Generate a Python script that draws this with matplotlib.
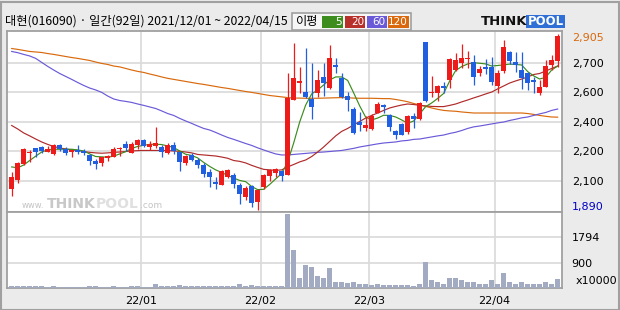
import numpy as np
import matplotlib.pyplot as plt
from matplotlib.patches import Rectangle

# daily candles, 2021/12/01 ~ 2022/04/15 (92 trading days)
opens = [2011, 2063, 2155, 2217, 2246, 2255, 2226, 2213, 2263, 2244,
         2225, 2236, 2232, 2209, 2175, 2163, 2190, 2198, 2240, 2269,
         2221, 2265, 2294, 2255, 2261, 2255, 2217, 2265, 2225, 2163,
         2207, 2178, 2150, 2111, 2052, 2034, 2082, 2094, 2036, 1967,
         2029, 1938, 2025, 2088, 2105, 2115, 2092, 2524, 2624, 2571,
         2530, 2567, 2655, 2595, 2728, 2649, 2547, 2474, 2399, 2361,
         2357, 2451, 2496, 2438, 2346, 2386, 2342, 2432, 2413, 2857,
         2563, 2563, 2605, 2640, 2697, 2740, 2761, 2742, 2678, 2713,
         2713, 2605, 2694, 2799, 2743, 2697, 2678, 2640, 2567, 2601,
         2726, 2749]
highs = [2111, 2167, 2246, 2236, 2250, 2261, 2259, 2269, 2271, 2251,
         2236, 2265, 2242, 2213, 2184, 2198, 2205, 2251, 2251, 2288,
         2280, 2301, 2298, 2288, 2369, 2265, 2275, 2284, 2226, 2207,
         2217, 2188, 2163, 2125, 2077, 2119, 2125, 2102, 2044, 2029,
         2034, 2013, 2096, 2125, 2130, 2121, 2682, 2855, 2713, 2826,
         2740, 2697, 2740, 2843, 2767, 2678, 2572, 2486, 2457, 2432,
         2444, 2515, 2501, 2444, 2351, 2390, 2438, 2448, 2513, 2857,
         2665, 2611, 2626, 2768, 2797, 2847, 2807, 2784, 2722, 2761,
         2774, 2697, 2870, 2807, 2799, 2803, 2688, 2659, 2640, 2755,
         2784, 2905]
lows = [1973, 2048, 2150, 2169, 2198, 2221, 2225, 2209, 2227, 2209,
        2198, 2213, 2209, 2148, 2125, 2144, 2175, 2194, 2202, 2232,
        2217, 2240, 2255, 2236, 2246, 2198, 2213, 2213, 2117, 2150,
        2175, 2134, 2082, 2021, 2013, 2034, 2073, 2019, 1925, 1948,
        1904, 1890, 2009, 2059, 2082, 2059, 2092, 2524, 2563, 2534,
        2417, 2544, 2547, 2590, 2682, 2534, 2463, 2328, 2348, 2348,
        2351, 2448, 2451, 2348, 2301, 2323, 2328, 2365, 2409, 2515,
        2544, 2521, 2567, 2592, 2693, 2707, 2707, 2611, 2663, 2674,
        2611, 2567, 2678, 2730, 2688, 2586, 2582, 2567, 2553, 2601,
        2697, 2717]
closes = [2082, 2163, 2242, 2226, 2225, 2232, 2244, 2265, 2240, 2221,
          2234, 2225, 2221, 2175, 2152, 2194, 2202, 2242, 2246, 2246,
          2269, 2294, 2259, 2273, 2275, 2226, 2265, 2232, 2169, 2202,
          2178, 2150, 2098, 2077, 2040, 2115, 2121, 2042, 1979, 2019,
          1932, 2007, 2092, 2121, 2127, 2088, 2534, 2649, 2634, 2544,
          2486, 2640, 2624, 2767, 2717, 2544, 2524, 2336, 2380, 2380,
          2432, 2501, 2482, 2371, 2323, 2323, 2432, 2417, 2505, 2521,
          2571, 2605, 2595, 2760, 2755, 2765, 2767, 2659, 2701, 2701,
          2630, 2682, 2828, 2751, 2724, 2653, 2624, 2630, 2597, 2720,
          2755, 2893]
# volume, x10000 shares
volumes = [60, 70, 75, 60, 55, 55, 50, 55, 50, 45,
           50, 50, 45, 60, 55, 50, 45, 55, 45, 50,
           60, 55, 50, 45, 140, 70, 60, 65, 120, 70,
           60, 55, 70, 75, 60, 65, 55, 70, 150, 80,
           90, 85, 70, 60, 75, 70, 2636, 1359, 343, 827,
           745, 437, 366, 721, 225, 225, 177, 225, 154, 154,
           118, 154, 118, 118, 118, 118, 118, 83, 130, 910,
           272, 200, 130, 343, 343, 272, 225, 225, 154, 154,
           272, 154, 544, 200, 154, 225, 130, 130, 130, 200,
           154, 307]

# moving averages as drawn on the chart
ma5 = [2138, 2133, 2149, 2175, 2200, 2224, 2236, 2240, 2240, 2240,
       2240, 2236, 2230, 2213, 2198, 2196, 2194, 2200, 2213, 2226,
       2245, 2256, 2263, 2268, 2269, 2267, 2259, 2250, 2230, 2211,
       2204, 2190, 2164, 2141, 2121, 2106, 2089, 2074, 2060, 2053,
       2025, 2007, 2009, 2037, 2069, 2100, 2167, 2276, 2397, 2495,
       2559, 2582, 2611, 2640, 2657, 2657, 2637, 2565, 2490, 2425,
       2409, 2420, 2436, 2435, 2426, 2409, 2390, 2403, 2444, 2486,
       2507, 2533, 2562, 2634, 2694, 2717, 2732, 2739, 2736, 2732,
       2720, 2723, 2727, 2731, 2729, 2726, 2688, 2663, 2645, 2655,
       2697, 2720]
ma20 = [2377, 2357, 2334, 2317, 2299, 2282, 2268, 2256, 2247, 2242,
        2236, 2233, 2227, 2222, 2219, 2217, 2219, 2222, 2224, 2227,
        2230, 2232, 2233, 2233, 2233, 2233, 2232, 2230, 2228, 2224,
        2219, 2210, 2207, 2204, 2201, 2195, 2188, 2175, 2170, 2161,
        2147, 2135, 2124, 2121, 2118, 2121, 2138, 2152, 2167, 2178,
        2198, 2224, 2253, 2285, 2317, 2343, 2360, 2380, 2400, 2420,
        2435, 2449, 2464, 2478, 2487, 2495, 2501, 2498, 2493, 2490,
        2487, 2486, 2486, 2493, 2501, 2513, 2524, 2536, 2547, 2559,
        2570, 2588, 2605, 2622, 2634, 2645, 2657, 2671, 2677, 2691,
        2706, 2720]
ma60 = [2804, 2797, 2787, 2778, 2764, 2741, 2718, 2697, 2677, 2660,
        2643, 2625, 2608, 2593, 2582, 2568, 2547, 2530, 2521, 2516,
        2510, 2501, 2493, 2484, 2475, 2461, 2446, 2435, 2418, 2403,
        2389, 2374, 2360, 2351, 2337, 2322, 2308, 2297, 2285, 2273,
        2262, 2248, 2236, 2224, 2213, 2207, 2207, 2210, 2213, 2216,
        2219, 2222, 2224, 2227, 2230, 2233, 2239, 2245, 2253, 2259,
        2265, 2271, 2276, 2279, 2282, 2288, 2291, 2297, 2299, 2305,
        2311, 2317, 2322, 2331, 2338, 2348, 2360, 2369, 2374, 2380,
        2386, 2392, 2397, 2406, 2413, 2421, 2426, 2435, 2444, 2452,
        2464, 2472]
ma120 = [2821, 2816, 2810, 2804, 2801, 2798, 2792, 2787, 2781, 2775,
         2769, 2764, 2758, 2752, 2743, 2735, 2729, 2720, 2715, 2706,
         2697, 2689, 2683, 2674, 2666, 2657, 2649, 2643, 2637, 2631,
         2625, 2619, 2614, 2608, 2602, 2596, 2591, 2585, 2579, 2573,
         2568, 2562, 2556, 2550, 2546, 2542, 2538, 2535, 2535, 2534,
         2534, 2534, 2535, 2536, 2537, 2538, 2537, 2535, 2534, 2534,
         2534, 2533, 2532, 2532, 2527, 2521, 2514, 2504, 2495, 2487,
         2478, 2470, 2464, 2461, 2459, 2455, 2452, 2449, 2449, 2449,
         2449, 2449, 2449, 2449, 2449, 2449, 2446, 2441, 2435, 2430,
         2426, 2425]

# first trading day index of each month and its label
month_starts = [22, 42, 60, 81]
month_labels = ['22/01', '22/02', '22/03', '22/04']

# price grid positions and the rounded labels the chart shows
grid_prices = [2059, 2230, 2397, 2570, 2738]
grid_labels = ['2,100', '2,200', '2,400', '2,600', '2,700']
vol_ticks = [900, 1794]

RED = '#EE1B1B'
BLUE = '#1F5FE0'
GRID = '#D9D9D9'
FRAME = '#A0A0A0'
KFONT = ['Noto Sans CJK KR', 'DejaVu Sans']

o = np.array(opens); h = np.array(highs); l = np.array(lows); c = np.array(closes)
x = np.arange(len(c))
up = c > o
col = np.where(up, RED, BLUE)

fig = plt.figure(figsize=(6.2, 3.1), dpi=100, facecolor='#EBEBEB')
ax = fig.add_axes([7/620, 1-212/310, 555/620, 181/310])
axv = fig.add_axes([7/620, 1-288/310, 555/620, 76/310], sharex=ax)

# moving averages behind candles
ax.plot(x, ma120, color='#D9690C', lw=0.85, zorder=2)
ax.plot(x, ma60, color='#6A5AD8', lw=0.85, zorder=2)
ax.plot(x, ma20, color='#B02A2A', lw=0.85, zorder=2)
ax.plot(x, ma5, color='#3C8C1E', lw=0.85, zorder=2)

# candles
ax.vlines(x, l, h, color=col, lw=0.9, zorder=3)
body_lo = np.minimum(o, c)
body_h = np.maximum(np.abs(c - o), 6)
ax.bar(x, body_h, width=0.78, bottom=body_lo, color=col, linewidth=0, zorder=4)

ax.set_xlim(-0.78, 91.72)
ax.set_ylim(1878, 2922)
ax.set_facecolor('white')
ax.set_yticks(grid_prices)
ax.set_yticklabels(grid_labels)
ax.yaxis.tick_right()
ax.tick_params(axis='y', length=0, pad=7, labelsize=8)
ax.set_xticks([m - 0.5 for m in month_starts])
ax.tick_params(axis='x', length=0, labelbottom=False)
ax.grid(True, color=GRID, lw=1.2, zorder=0)
ax.set_axisbelow(True)

# high / low labels
hi_i = int(np.argmax(h)); lo_i = int(np.argmin(l))
ax.annotate(f'{h[hi_i]:,}', xy=(1, h[hi_i]), xycoords=('axes fraction', 'data'),
            xytext=(7, -3), textcoords='offset points', va='center', ha='left',
            fontsize=8, color='#D9690C', annotation_clip=False)
ax.annotate(f'{l[lo_i]:,}', xy=(1, l[lo_i]), xycoords=('axes fraction', 'data'),
            xytext=(7, 2), textcoords='offset points', va='center', ha='left',
            fontsize=8, color='#0000C8', annotation_clip=False)

# volume
axv.bar(x, volumes, width=0.8, color='#A3ABC3', linewidth=0, zorder=3)
axv.set_ylim(0, 2690)
axv.set_facecolor('white')
axv.set_yticks(vol_ticks)
axv.set_yticklabels([str(v) for v in vol_ticks])
axv.yaxis.tick_right()
axv.tick_params(axis='y', length=0, pad=7, labelsize=8)
axv.set_xticks([m - 0.5 for m in month_starts])
axv.set_xticklabels(month_labels)
axv.tick_params(axis='x', length=0, pad=6, labelsize=8)
axv.grid(True, color=GRID, lw=1.2, zorder=0)
axv.set_axisbelow(True)

for a in (ax, axv):
    for s in a.spines.values():
        s.set_color(FRAME)
        s.set_linewidth(1.3)

fig.text(576/620, 1-281/310, 'x10000', fontsize=8, va='center', ha='left')

# watermark
fig.text(22/620, 1-205/310, 'www.', fontsize=6, color='#C4C4C4', va='center')
fig.text(47/620, 1-204/310, 'THINK', fontsize=10, fontweight='bold', color='#C8C8C8', va='center')
fig.text(96/620, 1-204/310, 'POOL', fontsize=10, fontweight='bold', color='#E0E0E0', va='center')
fig.text(140/620, 1-206/310, '.com', fontsize=6.5, color='#C4C4C4', va='center')

# title
fig.text(5/620, 1-21/310, '대현(016090) · 일간(92일) 2021/12/01 ~ 2022/04/15',
         fontsize=8.8, family=KFONT, va='center', ha='left')

# moving-average legend
fig.patches.append(Rectangle((292/620, 1-29.5/310), 119/620, 17/310, transform=fig.transFigure,
                             facecolor='#F6F6F6', edgecolor=FRAME, lw=1.2))
fig.text(296/620, 1-21/310, '이평', fontsize=8.8, family=KFONT, va='center', ha='left')
ma_boxes = [('5', '#3C8C1E', 321.5, 21), ('20', '#B8302A', 345, 20),
            ('60', '#6A5AD8', 366.5, 20), ('120', '#D9690C', 387.5, 21)]
for lab, fc, bx, bw in ma_boxes:
    fig.patches.append(Rectangle((bx/620, 1-27.5/310), bw/620, 11/310, transform=fig.transFigure,
                                 facecolor=fc, edgecolor='none'))
    fig.text((bx + bw - 1)/620, 1-22/310, lab, fontsize=7.5, color='white', va='center', ha='right')

# logo
fig.text(481/620, 1-21.5/310, 'THINK', fontsize=9.5, fontweight='bold', color='#111111', va='center')
fig.patches.append(Rectangle((526/620, 1-27.5/310), 39/620, 12.5/310, transform=fig.transFigure,
                             facecolor='#2F6FD6', edgecolor='none'))
fig.text(545.5/620, 1-21.5/310, 'POOL', fontsize=8.5, fontweight='bold', color='white',
         va='center', ha='center')

# outer frame
fig.patches.append(Rectangle((0.5/620, 0.5/310), 618.5/620, 308/310, transform=fig.transFigure,
                             fill=False, edgecolor=FRAME, lw=1.5))

fig.savefig('out.png', dpi=100, facecolor=fig.get_facecolor())
